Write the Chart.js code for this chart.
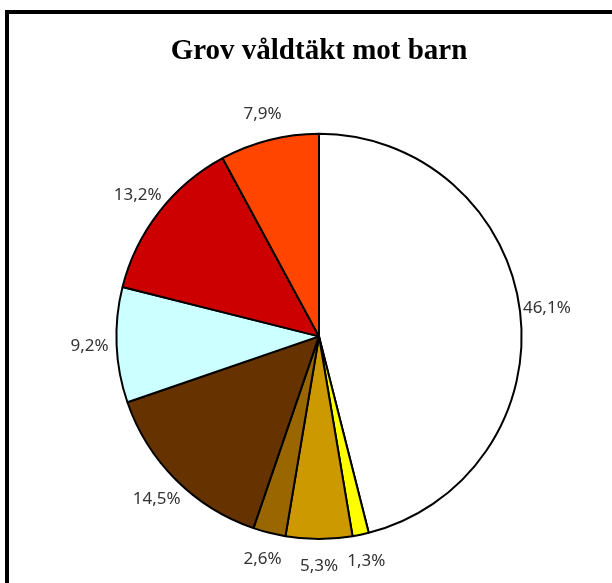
<!DOCTYPE html>
<html>
<head>
<meta charset="utf-8">
<script src="https://cdn.jsdelivr.net/npm/chart.js@4"></script>
<style>
  body { margin: 0; background: #fff; overflow: hidden; }
  #frame { position: absolute; left: 5px; top: 10px; width: 700px; height: 700px; border: 4px solid #000; }
  #wrap { position: absolute; left: 0; top: 0; width: 612px; height: 583px; }
</style>
</head>
<body>
<div id="frame"></div>
<div id="wrap"><canvas id="pieChart" width="612" height="583"></canvas></div>
<script>
// andelar i procent, medurs från klockan tolv
const shares = [46.1, 1.3, 5.3, 2.6, 14.5, 9.2, 13.2, 7.9];
const shareLabels = ['46,1%', '1,3%', '5,3%', '2,6%', '14,5%', '9,2%', '13,2%', '7,9%'];
const sliceColors = ['#FFFFFF', '#FFFF00', '#CC9900', '#996600', '#663300', '#CCFFFF', '#CC0000', '#FF4500'];

// etiketter utanför tårtbitarna
const outsideLabels = {
    id: 'outsideLabels',
    afterDatasetsDraw(chart) {
        const ctx = chart.ctx;
        const arcs = chart.getDatasetMeta(0).data;
        ctx.save();
        ctx.font = '17px "Noto Sans"';
        ctx.fillStyle = '#333';
        ctx.textAlign = 'center';
        ctx.textBaseline = 'middle';
        arcs.forEach((arc, i) => {
            const p = arc.getProps(['x', 'y', 'startAngle', 'endAngle', 'outerRadius'], true);
            const mid = (p.startAngle + p.endAngle) / 2;
            const d = p.outerRadius + 27;
            ctx.fillText(shareLabels[i], p.x + Math.cos(mid) * d, p.y + Math.sin(mid) * d);
        });
        ctx.restore();
    }
};

const ctx = document.getElementById('pieChart').getContext('2d');
new Chart(ctx, {
    type: 'pie',
    data: {
        labels: shareLabels,
        datasets: [{
            data: shares,
            backgroundColor: sliceColors,
            borderColor: '#000',
            borderWidth: 2
        }]
    },
    options: {
        responsive: false,
        animation: false,
        layout: {
            padding: { left: 115, right: 89, top: 10, bottom: 43 }
        },
        plugins: {
            legend: { display: false },
            tooltip: { enabled: false },
            title: {
                display: true,
                text: 'Grov våldtäkt mot barn',
                color: '#000',
                font: { family: '"Liberation Serif"', size: 29, weight: 'bold' },
                padding: { top: 24, bottom: 64 }
            }
        }
    },
    plugins: [outsideLabels]
});
</script>
</body>
</html>
